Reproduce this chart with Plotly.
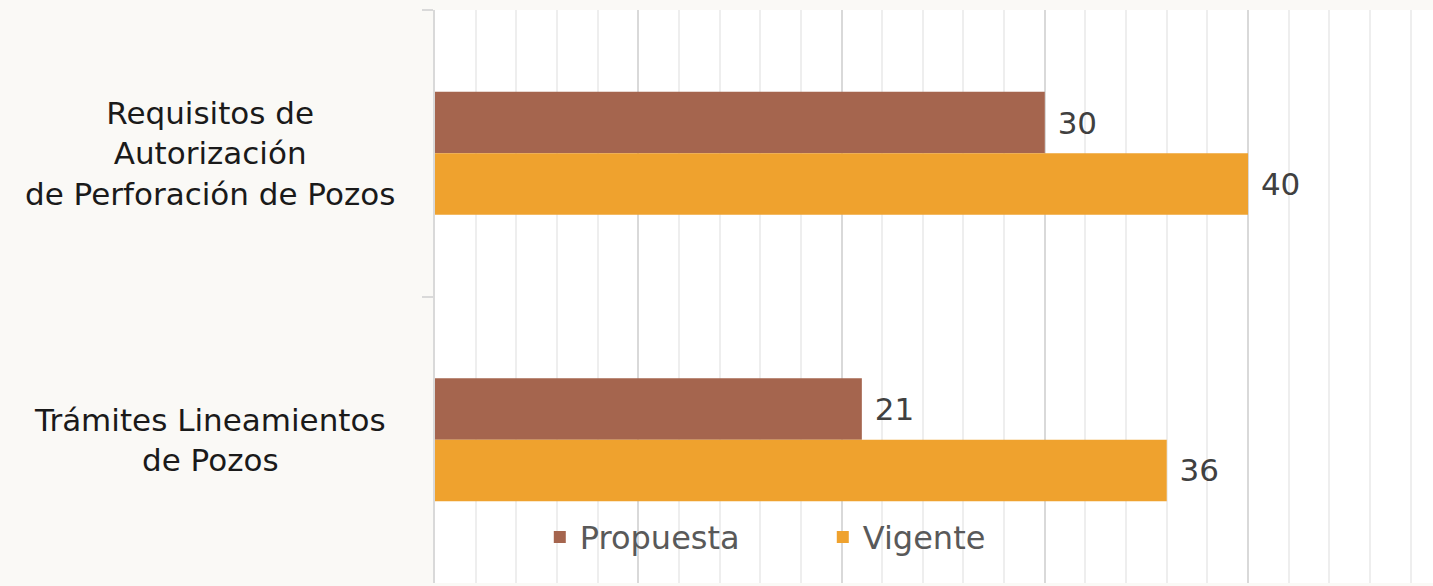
import plotly.graph_objects as go

categories = ["Requisitos de<br>Autorización<br>de Perforación de Pozos",
              "Trámites Lineamientos<br>de Pozos"]
series_names = ["Propuesta", "Vigente"]
propuesta = [30, 21]
vigente = [40, 36]
colors = ["#A5654E", "#EFA22E"]

FONT = "DejaVu Sans"
fig = go.Figure()
for name, vals, col in zip(series_names, [propuesta, vigente], colors):
    fig.add_trace(go.Bar(
        y=categories, x=vals, name=name, orientation="h",
        marker=dict(color=col, line=dict(width=0)),
        texttemplate="\u00a0%{x}", textposition="outside", cliponaxis=False,
        textfont=dict(family=FONT, size=31, color="#404040"),
    ))

for c in categories:
    fig.add_annotation(x=-0.2255, xref="paper", y=c, yref="y", text=c,
                       showarrow=False, xanchor="center", yanchor="middle", align="center",
                       font=dict(family=FONT, size=31, color="#1a1a1a"))

fig.update_layout(
    width=1433, height=586,
    margin=dict(l=435, r=0, t=10, b=3),
    paper_bgcolor="#FAF9F6", plot_bgcolor="#FFFFFF",
    barmode="group", bargap=0.571, bargroupgap=0,
    showlegend=True,
    legend=dict(orientation="h", x=0.105, xanchor="left", y=0.08, yanchor="middle",
                bgcolor="rgba(0,0,0,0)", font=dict(family=FONT, size=32, color="#595959"),
                entrywidth=238, entrywidthmode="pixels", traceorder="normal"),
    font=dict(family=FONT),
)
fig.update_xaxes(range=[0, 49.1], dtick=10, showgrid=True, gridcolor="#D9D9D9", gridwidth=1.5,
                 showticklabels=False, zeroline=False, ticks="",
                 minor=dict(dtick=2, showgrid=True, gridcolor="#EEEEEE", gridwidth=1.5))
fig.update_yaxes(autorange="reversed", showticklabels=False, showline=True, linecolor="#D9D9D9",
                 linewidth=1.5, ticks="outside", ticklen=11, tickcolor="#D9D9D9", tickwidth=1.5,
                 tickson="boundaries", showgrid=False)

fig.write_html("out.html", config={"displayModeBar": False},
               post_script="document.body.style.margin='0';")
